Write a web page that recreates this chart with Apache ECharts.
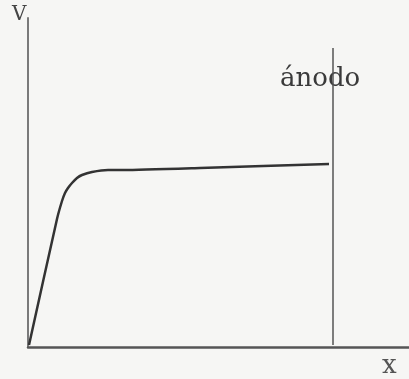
<!DOCTYPE html>
<html>
<head>
<meta charset="utf-8">
<script src="https://cdn.jsdelivr.net/npm/echarts@6/dist/echarts.min.js"></script>
<style>
  html, body { margin: 0; padding: 0; background: #f6f6f4; }
  #chart { width: 409px; height: 379px; }
</style>
</head>
<body>
<div id="chart"></div>
<script>
// curve: distance x vs potential V (drawing units)
const curveX = [1, 29, 34, 37, 40, 44, 49, 54, 64, 80, 97, 172, 301]
const curveV = [2, 128, 146, 154, 159, 164, 169, 172, 175, 177, 177, 179, 183]

// anode position and extent of its vertical line
const anodeX = 305
const anodeV = [2, 299]

const font = 'DejaVu Serif'

const chartDom = document.getElementById('chart')
const myChart = echarts.init(chartDom)

const option = {
  backgroundColor: '#f6f6f4',
  animation: false,
  grid: {
    left: 28,
    top: 18,
    width: 381,
    height: 329
  },
  xAxis: {
    type: 'value',
    min: 0,
    max: 381,
    axisLine: { show: true, lineStyle: { color: '#555', width: 2.5 } },
    axisTick: { show: false },
    axisLabel: { show: false },
    splitLine: { show: false }
  },
  yAxis: {
    type: 'value',
    min: 0,
    max: 329,
    axisLine: { show: true, lineStyle: { color: '#7a7a7a', width: 2 } },
    axisTick: { show: false },
    axisLabel: { show: false },
    splitLine: { show: false }
  },
  series: [
    {
      name: 'V',
      type: 'line',
      data: curveX.map((x, i) => [x, curveV[i]]),
      smooth: 0.15,
      showSymbol: false,
      lineStyle: { color: '#333', width: 2.5 }
    },
    {
      name: 'ánodo',
      type: 'line',
      data: anodeV.map(v => [anodeX, v]),
      showSymbol: false,
      lineStyle: { color: '#555', width: 1.5 }
    }
  ],
  graphic: [
    {
      type: 'text', left: 12, top: 5,
      style: { text: 'V', font: '20px ' + font, fill: '#444' }
    },
    {
      type: 'text', left: 382, top: 353,
      style: { text: 'x', font: '26px ' + font, fill: '#555' }
    },
    {
      type: 'text', left: 280, top: 66,
      style: { text: 'ánodo', font: '26px ' + font, fill: '#3a3a3a' }
    }
  ]
}

option && myChart.setOption(option)
</script>
</body>
</html>
